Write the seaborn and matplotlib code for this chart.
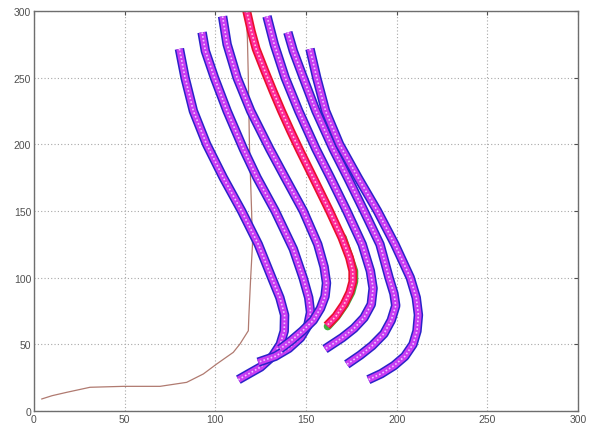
import numpy as np
import seaborn as sns
import matplotlib
matplotlib.use("Agg")
import matplotlib.pyplot as plt

# tracked paths (blue squares + magenta circles)
x1 = [80.2, 83.3, 87.9, 95.2, 104.4, 114.5, 123.7, 131.1, 135.6, 138.2, 138.0, 135.8, 131.5, 125.0, 118.5, 112.7]
y1 = [271.6, 250, 225, 200, 175, 150, 125, 100, 85, 72, 60, 50, 41, 33, 28, 23.5]

x2 = [92.7, 94.5, 99.5, 106.5, 115.5, 123.0, 133.0, 143.0, 148.4, 151.5, 152.5, 151.0, 147.0, 140.5, 133.0, 123.6]
y2 = [284, 270, 250, 225, 196.5, 175, 150, 121.5, 100, 85, 74, 64, 55, 47, 41, 36.6]

x3 = [104.0, 106.5, 112.0, 119.5, 130.0, 138.5, 148.5, 156.5, 160.0, 161.3, 160.5, 158.0, 154.0, 148.0, 142.0, 135.7]
y3 = [296, 275, 250, 225, 196.5, 175, 150, 125, 108, 96, 86, 77, 68, 60, 53, 46.5]

x5 = [128.5, 132.5, 138.5, 146.0, 155.5, 163.5, 172.5, 181.0, 185.5, 187.0, 186.0, 182.0, 176.5, 170.0, 160.5]
y5 = [296, 275, 250, 225, 196.5, 175, 150, 125, 105, 92, 80, 70, 62, 55, 46.5]

x6 = [140.0, 143.0, 148.5, 155.5, 165.0, 173.0, 182.0, 190.8, 195.8, 198.5, 199.5, 197.0, 193.0, 186.5, 180.0, 172.5]
y6 = [284, 270, 250, 225, 196.5, 175, 150, 125, 100, 88, 79, 68, 58, 49, 42, 35]

x7 = [152.2, 155.9, 160.8, 168.5, 178.7, 189.4, 199.0, 207.5, 210.8, 212.0, 211.2, 209.0, 204.5, 198.5, 191.5, 184.4]
y7 = [271.6, 250, 225, 200, 175, 150, 125, 100, 85, 72, 60, 50, 41, 34, 28, 23.5]

# red path and the green one under it
xr = [117.3, 119.8, 122.5, 127.3, 131.8, 136.5, 141.5, 146.2, 154.0, 163.0, 169.8, 174.0, 175.8, 175.8, 174.2, 171.0, 166.5, 161.5]
yr = [300, 285, 271.6, 255, 240, 225, 210, 196.5, 175, 150, 130, 115, 105, 97, 89, 80, 71, 64]
xg = [170.3, 176.6, 176.6, 175.0, 171.6, 167.0, 162.0]
yg = [130, 105, 97, 89, 80, 71, 63.5]

# thin brown line
xb = [4.2, 10, 18, 30.9, 49.3, 69.5, 84.2, 93.4, 100.8, 109.9, 113.6, 118.2, 118.5, 119.5, 120.5, 120.0, 118.8, 118.2, 117.7, 117.0]
yb = [9, 11.5, 14, 17.8, 18.5, 18.5, 21.5, 27.8, 35.3, 44, 50.3, 60.2, 71.5, 100, 125, 150, 200, 250, 279, 300]

ticks = [0, 50, 100, 150, 200, 250, 300]

sns.set_style("white")
plt.rcParams["font.family"] = ["Liberation Sans", "DejaVu Sans"]
fig = plt.figure(figsize=(5.91, 4.27), dpi=100)
ax = fig.add_axes([0.0575, 0.0351, 0.9205, 0.9368])

ax.grid(True, color="#a8a8a8", linestyle=(0, (1, 2)), linewidth=0.8)
ax.set_axisbelow(True)

sns.lineplot(x=xb, y=yb, sort=False, estimator=None, color="#b07a70", linewidth=0.9, ax=ax)

paths = [(x1, y1), (x2, y2), (x3, y3), (x5, y5), (x6, y6), (x7, y7)]
for px, py in paths:
    sns.lineplot(x=px, y=py, sort=False, estimator=None, color="#2b22c9", linewidth=6.8,
                 solid_capstyle="butt", solid_joinstyle="round", ax=ax)
    sns.lineplot(x=px, y=py, sort=False, estimator=None, color="#c83cf2", linewidth=4.6,
                 solid_capstyle="butt", solid_joinstyle="round", ax=ax)
    sns.lineplot(x=px, y=py, sort=False, estimator=None, color="#f3c4ff", linewidth=1.2,
                 linestyle=(0, (1, 1.3)), ax=ax)

sns.lineplot(x=xg, y=yg, sort=False, estimator=None, color="#40b040", linewidth=5.8, ax=ax)
sns.lineplot(x=xr, y=yr, sort=False, estimator=None, color="#e8102e", linewidth=6.4,
             solid_capstyle="butt", solid_joinstyle="round", ax=ax)
sns.lineplot(x=xr, y=yr, sort=False, estimator=None, color="#ff2a9a", linewidth=4.0,
             solid_capstyle="butt", solid_joinstyle="round", ax=ax)
sns.lineplot(x=xr, y=yr, sort=False, estimator=None, color="#ffc4e4", linewidth=1.2,
             linestyle=(0, (1, 1.3)), ax=ax)

ax.set_xlim(0, 300)
ax.set_ylim(0, 300)
ax.set_xticks(ticks)
ax.set_yticks(ticks)
ax.set_xticklabels([str(t) for t in ticks])
ax.set_yticklabels([str(t) for t in ticks])
ax.tick_params(direction="in", length=3, width=0.8, colors="#505050", labelsize=7.5, pad=2,
               top=True, right=True)
for s in ax.spines.values():
    s.set_color("#6e6e6e")
    s.set_linewidth(1.0)
    s.set_visible(True)

fig.savefig("out.png", dpi=100)
